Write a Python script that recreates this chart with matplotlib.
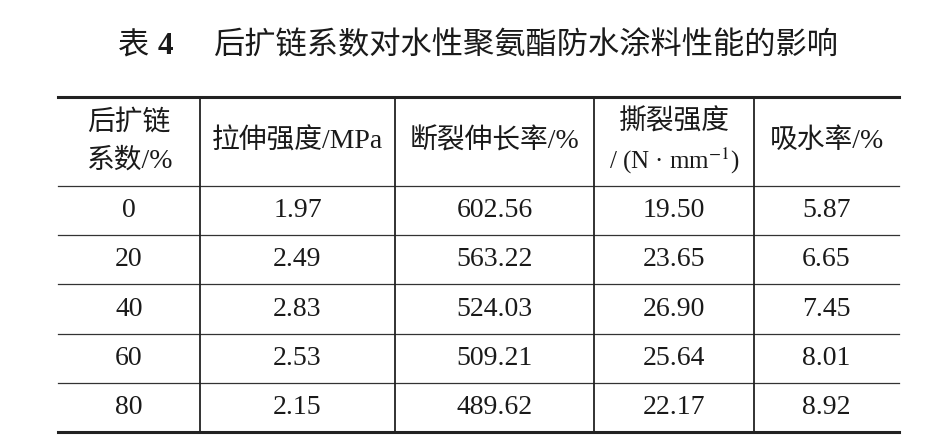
import matplotlib
matplotlib.use("Agg")
import matplotlib.pyplot as plt

plt.rcParams['font.family'] = ['Liberation Serif', 'Noto Sans CJK SC']
plt.rcParams['mathtext.fontset'] = 'stix'

title_prefix = "表 4"
title_text = "后扩链系数对水性聚氨酯防水涂料性能的影响"
headers = ["后扩链\n系数/%", "拉伸强度/MPa", "断裂伸长率/%", "撕裂强度\n/ (N · mm$^{-1}$)", "吸水率/%"]
chain_ext = ["0", "20", "40", "60", "80"]
tensile = ["1.97", "2.49", "2.83", "2.53", "2.15"]
elongation = ["602.56", "563.22", "524.03", "509.21", "489.62"]
tear = ["19.50", "23.65", "26.90", "25.64", "22.17"]
water_abs = ["5.87", "6.65", "7.45", "8.01", "8.92"]

columns = [chain_ext, tensile, elongation, tear, water_abs]

W, H = 950, 444
fig = plt.figure(figsize=(W / 100, H / 100), dpi=100)
ax = fig.add_axes([0, 0, 1, 1])
ax.set_xlim(0, W)
ax.set_ylim(H, 0)
ax.axis('off')

col_edges = [58, 200, 395, 594, 754, 899]
y_top, y_head = 97, 186
y_bottom = 432
n = len(chain_ext)
row_h = (y_bottom - y_head) / n
lc = '#222222'
tc = '#1a1a1a'

# title
ax.text(118, 47, "表", fontsize=22.5, va='center', ha='left', color=tc)
ax.text(158, 47, "4", fontsize=22.5, va='center', ha='left', fontweight='bold', color=tc)
ax.text(213, 47, title_text, fontsize=22.5, va='center', ha='left', color=tc)

# horizontal lines
ax.plot([col_edges[0], col_edges[-1]], [y_top, y_top], color=lc, lw=2.2)
ax.plot([col_edges[0], col_edges[-1]], [y_bottom, y_bottom], color=lc, lw=2.2)
for i in range(n):
    y = y_head + i * row_h
    ax.plot([col_edges[0], col_edges[-1]], [y, y], color='#333333', lw=0.9)
# vertical lines
for x in col_edges[1:-1]:
    ax.plot([x, x], [y_top, y_bottom], color=lc, lw=1.3)

centers = [(col_edges[i] + col_edges[i + 1]) / 2 for i in range(len(col_edges) - 1)]

# headers
head_mid = (y_top + y_head) / 2
for c, h in zip(centers, headers):
    if "\n" in h:
        l1, l2 = h.split("\n")
        ax.text(c, head_mid - 19, l1, fontsize=20, ha='center', va='center', color=tc)
        ax.text(c, head_mid + 19, l2, fontsize=20 if '$' not in l2 else 18, ha='center', va='center', color=tc)
    else:
        ax.text(c, head_mid, h, fontsize=20, ha='center', va='center', color=tc)

# body
for ci, col in enumerate(columns):
    for ri, v in enumerate(col):
        y = y_head + (ri + 0.5) * row_h
        ax.text(centers[ci], y, v, fontsize=20, ha='center', va='center', color=tc)

fig.savefig("out.png", dpi=100)
